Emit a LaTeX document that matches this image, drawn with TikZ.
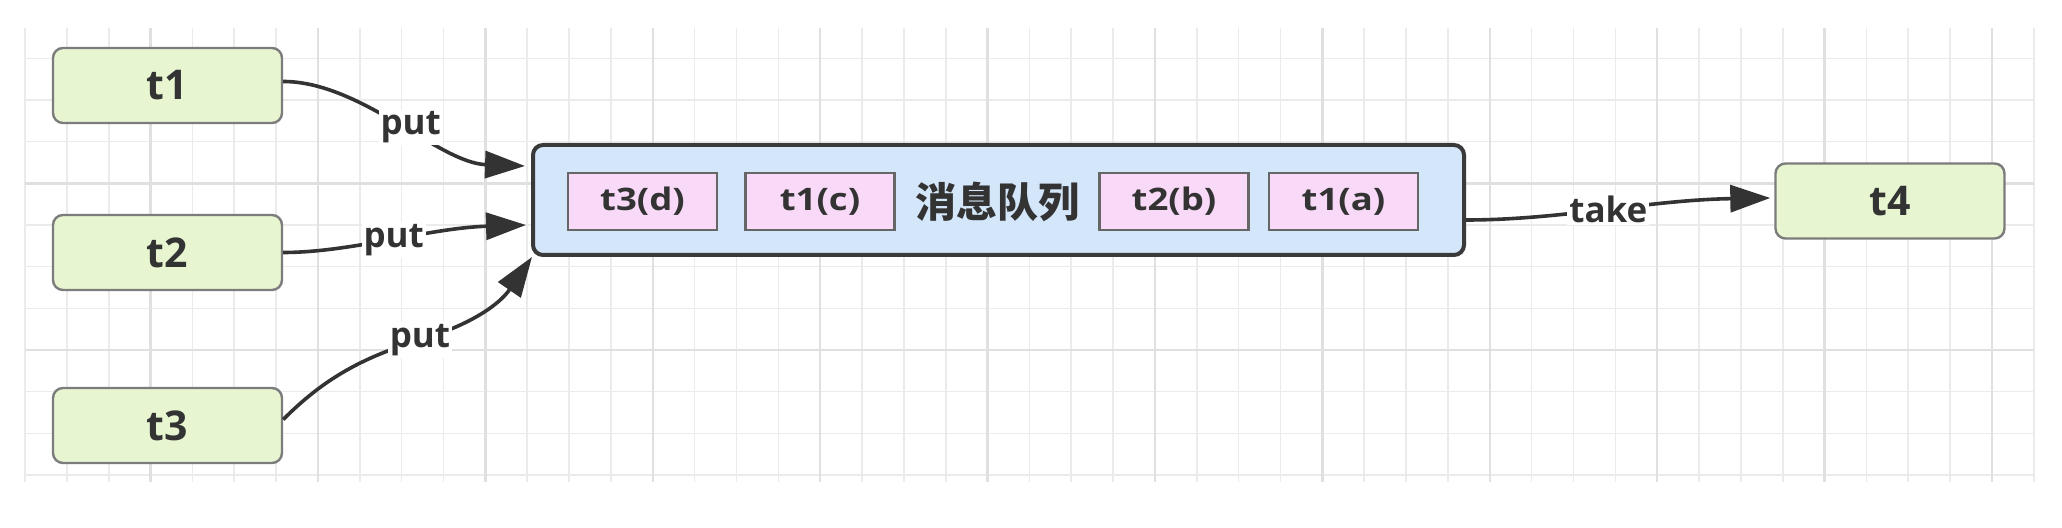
\documentclass[tikz,border=0pt]{standalone}
\usepackage{fontspec}
\usetikzlibrary{arrows.meta,calc}
\newfontfamily\labfont{Open Sans}
\newfontfamily\pinkfont{Open Sans}[FakeStretch=1.18]
\newfontfamily\cjkfont{Noto Sans CJK SC}
\definecolor{gfill}{HTML}{E7F6D1}
\definecolor{gborder}{HTML}{7C7C7C}
\definecolor{bfill}{HTML}{D4E6FA}
\definecolor{bborder}{HTML}{3A3A3A}
\definecolor{pfill}{HTML}{F9D9F8}
\definecolor{pborder}{HTML}{666666}
\definecolor{txt}{HTML}{333333}
\definecolor{gminor}{HTML}{EBEBEB}
\definecolor{gmajor}{HTML}{E0E0E0}
\tikzset{
  gbox/.style={draw=gborder, fill=gfill, rounded corners=5pt, line width=1.2pt,
    minimum width=114.5pt, minimum height=37.5pt, inner sep=0pt, text=txt,
    font=\labfont\bfseries\fontsize{20.5}{24}\selectfont},
  qbox/.style={draw=bborder, fill=bfill, rounded corners=5pt, line width=2pt,
    minimum width=465.5pt, minimum height=55pt, inner sep=0pt},
  pbox/.style={draw=pborder, fill=pfill, line width=1.2pt,
    minimum width=74.5pt, minimum height=28.5pt, inner sep=0pt, text=txt,
    font=\pinkfont\bfseries\fontsize{15.5}{18}\selectfont},
  qlabel/.style={inner sep=0pt, text=txt, font=\cjkfont\bfseries\fontsize{20.5}{24}\selectfont},
  elabel/.style={fill=white, inner sep=1pt, text=txt,
    font=\labfont\bfseries\fontsize{17.5}{20}\selectfont},
  arr/.style={draw=txt, line width=1.8pt, -{Triangle[length=20pt,width=13.5pt]}},
  gridminor/.style={draw=gminor, line width=0.8pt},
  gridmajor/.style={draw=gmajor, line width=1.2pt},
}
\begin{document}
\begin{tikzpicture}[x=0.5pt,y=-0.5pt]
\useasboundingbox (0,0) rectangle (2062,528);
\fill[white] (0,0) rectangle (2062,528);
% grid
\foreach \k in {0,...,48} {\draw[gridminor] ({25+41.85*\k},28) -- ({25+41.85*\k},482);}
\foreach \k in {0,...,10} {\draw[gridminor] (25,{58.33+41.67*\k}) -- (2034,{58.33+41.67*\k});}
\foreach \k in {3,7,...,47} {\draw[gridmajor] ({25+41.85*\k},28) -- ({25+41.85*\k},482);}
\foreach \k in {3,7} {\draw[gridmajor] (25,{58.33+41.67*\k}) -- (2034,{58.33+41.67*\k});}
% nodes
\node[gbox] (t1) at (167.5,85.5) {t1};
\node[gbox] (t2) at (167.5,252.5) {t2};
\node[gbox] (t3) at (167.5,425.5) {t3};
\node[gbox] (t4) at (1890,201) {t4};
\node[qbox] (Q) at (998.5,200) {};
\node[pbox] (pd) at (642.5,201.5) {t3(d)};
\node[pbox] (pc) at (820,201.5) {t1(c)};
\node[qlabel] (ql) at (997,202) {消息队列};
\node[pbox] (pb) at (1174,201.5) {t2(b)};
\node[pbox] (pa) at (1343.5,201.5) {t1(a)};
% connector end points
\coordinate (s1) at ($(t1.east)+(0,-4)$);
\coordinate (e1) at ($(Q.north west)+(-6,23)$);
\coordinate (s2) at (t2.east);
\coordinate (e2) at ($(Q.west)+(-5,25)$);
\coordinate (s3) at ($(t3.east)+(0,-6)$);
\coordinate (e3) at ($(Q.south west)+(1,0)$);
\coordinate (s4) at ($(Q.east)+(0,20)$);
\coordinate (e4) at ($(t4.west)+(-4,-3)$);
% connectors
\draw[arr] (s1) .. controls ($(s1)+(78,0)$) and ($(e1)+(-86,-3)$) .. (e1)
  node[elabel, pos=0.54] {put};
\draw[arr] (s2) .. controls ($(s2)+(68,0)$) and ($(e2)+(-97,3)$) .. (e2)
  node[elabel, pos=0.5] {put};
\draw[arr] (s3) .. controls ($(s3)+(39,-39)$) and (360,358) .. (420,340)
  node[elabel] {put}
  .. controls (470,325) and ($(e3)+(-33,48)$) .. (e3);
\draw[arr] (s4) .. controls ($(s4)+(95,0)$) and ($(e4)+(-121,2)$) .. (e4)
  node[elabel, pos=0.5] {take};
\end{tikzpicture}
\end{document}
